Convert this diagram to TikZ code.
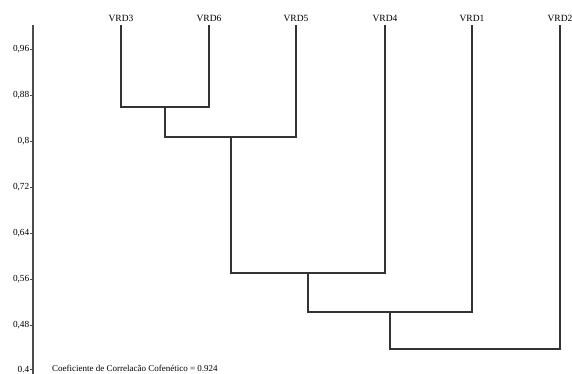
\documentclass[tikz,border=0pt]{standalone}
\usepackage{fontspec}
\setmainfont{Liberation Serif}
\usepackage{tikz}
\usetikzlibrary{positioning}

\tikzset{
    leaf/.style={inner sep=0pt, outer sep=4pt, font=\fontsize{9.5}{10}\selectfont},
    ticklab/.style={anchor=east, inner sep=0pt, font=\fontsize{9.3}{10}\selectfont},
    branch/.style={draw=black!80, line width=1.2pt},
}

\begin{document}
\begin{tikzpicture}[x=1pt, y=-1pt]
        \useasboundingbox (0,0) rectangle (572,374);

        % eixo
        \draw[draw=black!70, line width=1.1pt] (33,25) -- (33,374);
        \foreach \y/\lab in {49/{0,96}, 95/{0,88}, 141/{0,8}, 187/{0,72}, 233/{0,64}, 279/{0,56}, 325/{0,48}, 369.5/{0.4}}
        {
            \node[ticklab] at (29.5,\y) {\lab};
            \draw[draw=black!70, line width=0.8pt] (30,\y) -- (33,\y);
        }

        % folhas
        \node[leaf] (vrd3) at (121,18) {VRD3};
        \node[leaf] (vrd6) at (209,18) {VRD6};
        \node[leaf] (vrd5) at (296,18) {VRD5};
        \node[leaf] (vrd4) at (385,18) {VRD4};
        \node[leaf] (vrd1) at (472,18) {VRD1};
        \node[leaf] (vrd2) at (560,18) {VRD2};

        % fusoes
        \coordinate (m36) at (165,107);
        \coordinate (m365) at (231,137);
        \coordinate (m4) at (308,273);
        \coordinate (m1) at (390,312);
        \coordinate (m2) at (475,349);

        \draw[branch] (vrd3.south) |- (m36) -| (vrd6.south);
        \draw[branch] (m36) |- (m365) -| (vrd5.south);
        \draw[branch] (m365) |- (m4) -| (vrd4.south);
        \draw[branch] (m4) |- (m1) -| (vrd1.south);
        \draw[branch] (m1) |- (m2) -| (vrd2.south);

        \node[anchor=west, inner sep=0pt, font=\fontsize{9}{10}\selectfont] (coef) at (52,368.5) {Coeficiente de Correlacão Cofenético = 0.924};
\end{tikzpicture}
\end{document}
